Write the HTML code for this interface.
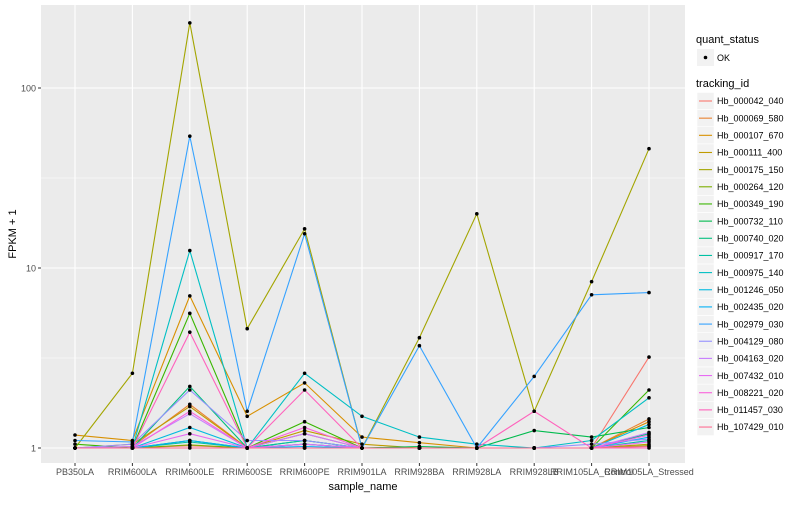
<!DOCTYPE html>
<html><head><meta charset="utf-8">
<style>
body{margin:0;background:#fff;font-family:"Liberation Sans",sans-serif;}
svg text{font-family:"Liberation Sans",sans-serif;}
</style></head>
<body>
<svg id="chart" width="800" height="500" xmlns="http://www.w3.org/2000/svg">
<rect x="0" y="0" width="800" height="500" fill="#fff"/>
<rect x="41" y="5" width="644" height="458" fill="#EBEBEB"/>
<g id="grid"></g>
<g id="lines"></g>
<g id="points"></g>
<g id="axes"></g>
<g id="legend"></g>
</svg>
<script>
const categories=["PB350LA","RRIM600LA","RRIM600LE","RRIM600SE","RRIM600PE","RRIM901LA","RRIM928BA","RRIM928LA","RRIM928LB","RRIM105LA_Control","RRIM105LA_Stressed"];
const seriesNames=["Hb_000042_040","Hb_000069_580","Hb_000107_670","Hb_000111_400","Hb_000175_150","Hb_000264_120","Hb_000349_190","Hb_000732_110","Hb_000740_020","Hb_000917_170","Hb_000975_140","Hb_001246_050","Hb_002435_020","Hb_002979_030","Hb_004129_080","Hb_004163_020","Hb_007432_010","Hb_008221_020","Hb_011457_030","Hb_107429_010"];
const colors=["#F8766D","#EA8331","#D89000","#C09B00","#A3A500","#7CAE00","#39B600","#00BB4E","#00BF7D","#00C1A3","#00BFC4","#00BAE0","#00B0F6","#35A2FF","#9590FF","#C77CFF","#E76BF3","#FA62DB","#FF62BC","#FF6C91"];
const s00=[1.0,1.0,1.03,1.0,1.0,1.0,1.0,1.0,1.0,1.0,3.2];
const s01=[1.0,1.02,1.75,1.0,1.2,1.0,1.0,1.0,1.0,1.0,1.45];
const s02=[1.18,1.1,7.0,1.5,2.3,1.15,1.07,1.0,1.0,1.0,1.4];
const s03=[1.0,1.05,1.7,1.0,1.25,1.05,1.0,1.0,1.0,1.0,1.05];
const s04=[1.0,2.6,230,4.6,16.5,1.0,4.1,20,1.6,8.4,46];
const s05=[1.0,1.0,1.04,1.0,1.0,1.0,1.0,1.0,1.0,1.0,1.03];
const s06=[1.05,1.0,5.6,1.0,1.4,1.0,1.0,1.0,1.0,1.0,2.1];
const s07=[1.0,1.0,1.1,1.0,1.1,1.0,1.02,1.0,1.25,1.15,1.3];
const s08=[1.0,1.0,2.2,1.0,1.05,1.0,1.0,1.0,1.0,1.0,1.2];
const s09=[1.0,1.0,1.08,1.0,1.1,1.0,1.0,1.0,1.0,1.0,1.1];
const s10=[1.0,1.0,12.5,1.0,2.6,1.5,1.15,1.05,1.0,1.1,1.9];
const s11=[1.0,1.0,1.3,1.0,1.05,1.0,1.0,1.0,1.0,1.0,1.35];
const s12=[1.0,1.0,1.1,1.0,1.02,1.0,1.0,1.0,1.0,1.0,1.15];
const s13=[1.1,1.08,54,1.6,15.5,1.0,3.7,1.0,2.5,7.1,7.3];
const s14=[1.0,1.05,2.1,1.1,1.1,1.0,1.0,1.0,1.0,1.05,1.12];
const s15=[1.0,1.02,1.55,1.0,1.2,1.0,1.0,1.0,1.0,1.0,1.22];
const s16=[1.0,1.0,1.2,1.0,1.05,1.0,1.0,1.0,1.0,1.0,1.08];
const s17=[1.0,1.0,1.6,1.0,1.3,1.0,1.0,1.0,1.0,1.0,1.18];
const s18=[1.0,1.0,4.4,1.0,2.1,1.0,1.0,1.0,1.6,1.0,1.0];
const s19=[1.0,1.0,1.0,1.0,1.0,1.0,1.0,1.0,1.0,1.0,1.02];
const seriesValues=[s00,s01,s02,s03,s04,s05,s06,s07,s08,s09,s10,s11,s12,s13,s14,s15,s16,s17,s18,s19];
const yTicks=[1,10,100];
const yTickLabels=["1","10","100"];

const NS="http://www.w3.org/2000/svg";
function xScale(i){return 75+i*57.4;}
function yScale(v){return 448-180*Math.log10(v);}
function mk(tag,attrs,parent){const e=document.createElementNS(NS,tag);for(const k in attrs)e.setAttribute(k,attrs[k]);parent.appendChild(e);return e;}
const grid=document.getElementById('grid'),lines=document.getElementById('lines'),pts=document.getElementById('points'),axes=document.getElementById('axes'),leg=document.getElementById('legend');

[Math.sqrt(10),Math.sqrt(1000)].forEach(v=>{
  const l=mk('line',{x1:41,x2:685,y1:yScale(v),y2:yScale(v),stroke:'#fff','stroke-width':0.5},grid);
  
  
});
yTicks.forEach((v,i)=>{
  const y=yScale(v);
  const l=mk('line',{x1:41,x2:685,y1:y,y2:y,stroke:'#fff','stroke-width':1.1},grid);
  
  
  const t=mk('text',{x:36,y:y+3.5,'text-anchor':'end','font-size':9,fill:'#4D4D4D'},axes);
  t.textContent=yTickLabels[i];
  
  
  const tk=mk('line',{x1:38,x2:41,y1:y,y2:y,stroke:'#333','stroke-width':1},axes);
  
  
});
categories.forEach((c,i)=>{
  const x=xScale(i);
  const l=mk('line',{x1:x,x2:x,y1:5,y2:463,stroke:'#fff','stroke-width':1.1},grid);
  
  
  const tk=mk('line',{x1:x,x2:x,y1:463,y2:466,stroke:'#333','stroke-width':1},axes);
  
  
  const t=mk('text',{x:x,y:475,'text-anchor':'middle','font-size':9,fill:'#4D4D4D'},axes);
  t.textContent=c;
  
  
});
seriesValues.forEach((vals,si)=>{
  const d=vals.map((v,i)=>(i?'L':'M')+xScale(i).toFixed(1)+','+yScale(v).toFixed(1)).join(' ');
  const p=mk('path',{d:d,fill:'none',stroke:colors[si],'stroke-width':1.1},lines);
  
  
});
seriesValues.forEach((vals,si)=>{
  vals.forEach((v,i)=>{
    const c=mk('circle',{cx:xScale(i),cy:yScale(v),r:1.8,fill:'#000'},pts);
    
    
  });
});
let t=mk('text',{x:363,y:490,'text-anchor':'middle','font-size':11,fill:'#000'},axes);
t.textContent='sample_name';


t=mk('text',{x:0,y:0,'text-anchor':'middle','font-size':11,fill:'#000',transform:'translate(16,234) rotate(-90)'},axes);
t.textContent='FPKM + 1';


t=mk('text',{x:696,y:43,'font-size':11,fill:'#000'},leg);
t.textContent='quant_status';


let r=mk('rect',{x:697,y:49,width:17,height:17,fill:'#F2F2F2'},leg);


let c=mk('circle',{cx:705.5,cy:57.5,r:1.8,fill:'#000'},leg);


t=mk('text',{x:717,y:61,'font-size':9,fill:'#000'},leg);
t.textContent='OK';


t=mk('text',{x:696,y:87,'font-size':11,fill:'#000'},leg);
t.textContent='tracking_id';


seriesNames.forEach((n,i)=>{
  const y=101+i*17.16;
  const k=mk('rect',{x:697,y:y-8.5,width:17,height:17,fill:'#F2F2F2',stroke:'#fff','stroke-width':0.5},leg);
  
  
  const l=mk('line',{x1:699,x2:712,y1:y,y2:y,stroke:colors[i],'stroke-width':1.1},leg);
  
  
  const tx=mk('text',{x:717,y:y+3.2,'font-size':9,fill:'#000'},leg);
  tx.textContent=n;
  
  
});
</script>
</body></html>
